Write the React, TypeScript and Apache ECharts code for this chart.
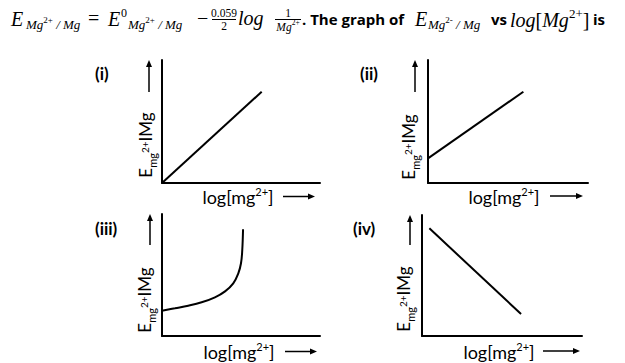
import React, { useEffect, useRef } from "react";
import * as echarts from "echarts";

// ---- data ----
const panelNames = ["(i)", "(ii)", "(iii)", "(iv)"];
const xAxisTitleParts = ["log[mg", "2+", "]"];
const yAxisTitleParts = ["E", "mg", "2+", "IMg"];
const seriesI = [[0, 0], [6.31, 7.42]];
const seriesII = [[0, 2.0], [5.96, 7.42]];
const seriesIII = [
  [0, 2.07], [0.82, 2.27], [1.66, 2.48], [2.51, 2.76], [3.35, 3.17], [3.99, 3.66],
  [4.51, 4.32], [4.83, 5.14], [5.0, 5.96], [5.08, 7.05], [5.13, 8.75],
];
const seriesIV = [[0.46, 8.9], [6.19, 1.82]];
const allSeries = [seriesI, seriesII, seriesIII, seriesIV];

// ---- layout ----
const grids = [
  { left: 162, top: 60, width: 158, height: 123 },
  { left: 428, top: 60, width: 160, height: 123 },
  { left: 162, top: 214, width: 158, height: 122 },
  { left: 422, top: 215, width: 160, height: 121 },
];
const panelLabelPos = [[95, 73.5], [360, 73.5], [95, 228], [353, 228]];
const upArrows = [[149, 60, 92], [415, 60, 92], [150, 214, 245], [410, 215, 245]];
const rightArrows = [[283, 315, 196.5], [550, 583, 196], [285, 317, 351.5], [543, 580, 351]];
const yLabelPos = [[147, 145], [410, 147], [146, 300], [405, 299]];
const xLabelPos = [[238, 195], [504, 195], [239, 350], [499, 350]];

const SERIF = "'Liberation Serif'";
const SANS = "Lato";
const BOLD = "'Open Sans'";

function txt(x: number, y: number, text: string, style: any, align = "left") {
  return {
    type: "text",
    x,
    y,
    silent: true,
    style: {
      text,
      fill: "#000",
      align,
      textAlign: align,
      verticalAlign: "middle",
      textVerticalAlign: "middle",
      ...style,
    },
  };
}

function subGroup(x: number, y: number, charge: string) {
  return txt(x, y, `{m|Mg}{p|${charge}}{m| / Mg}`, {
    rich: {
      m: { fontSize: 13, fontFamily: SERIF, fontStyle: "italic", verticalAlign: "bottom", padding: [3, 0, 0, 0] },
      p: { fontSize: 9, fontFamily: SERIF, verticalAlign: "top" },
    },
  });
}

function titleGraphics() {
  const it20 = { fontSize: 20, fontFamily: SERIF, fontStyle: "italic" };
  const rm20 = { fontSize: 20, fontFamily: SERIF };
  const sm = { fontSize: 11.5, fontFamily: SERIF };
  const bold = { fontSize: 15, fontFamily: BOLD, fontWeight: 700 };
  return [
    txt(11, 18.5, "E", it20),
    subGroup(26, 23, "2+"),
    txt(88, 18, "=", rm20),
    txt(108, 18.5, "E", it20),
    txt(121, 13, "0", { fontSize: 12, fontFamily: SERIF }),
    subGroup(128, 23, "2+"),
    txt(197, 18, "−", rm20),
    txt(224, 13, "0.059", sm, "center"),
    { type: "line", silent: true, shape: { x1: 212, y1: 19.5, x2: 236, y2: 19.5 }, style: { stroke: "#000", lineWidth: 1 } },
    txt(224, 25.5, "2", sm, "center"),
    txt(238, 18, "log", it20),
    txt(288, 13, "1", sm, "center"),
    { type: "line", silent: true, shape: { x1: 275, y1: 19.5, x2: 301, y2: 19.5 }, style: { stroke: "#000", lineWidth: 1 } },
    txt(288, 25.5, "{m|Mg}{p|2+}", {
      rich: {
        m: { fontSize: 11.5, fontFamily: SERIF, fontStyle: "italic", verticalAlign: "bottom", padding: [2, 0, 0, 0] },
        p: { fontSize: 7.5, fontFamily: SERIF, verticalAlign: "top" },
      },
    }, "center"),
    txt(302, 19, ". The graph of", bold),
    txt(415, 18.5, "E", it20),
    subGroup(428, 23, "2-"),
    txt(491, 19, "vs", bold),
    txt(510, 18, "{a|log}{b|[}{a|Mg}{p|2+}{b|]}", {
      rich: {
        a: { fontSize: 20, fontFamily: SERIF, fontStyle: "italic", verticalAlign: "bottom", padding: [3, 0, 0, 0] },
        b: { fontSize: 20, fontFamily: SERIF, verticalAlign: "bottom", padding: [3, 0, 0, 0] },
        p: { fontSize: 13, fontFamily: SERIF, verticalAlign: "top" },
      },
    }),
    txt(593, 19, "is", bold),
  ];
}

function panelGraphics() {
  const out: any[] = [];
  panelNames.forEach((name, i) => {
    const [px, py] = panelLabelPos[i];
    out.push(txt(px, py, name, { fontSize: 17, fontFamily: SANS, fontWeight: 700 }));

    const [ax, ay0, ay1] = upArrows[i];
    out.push({ type: "line", silent: true, shape: { x1: ax, y1: ay0 + 5, x2: ax, y2: ay1 }, style: { stroke: "#000", lineWidth: 1.5 } });
    out.push({ type: "polygon", silent: true, shape: { points: [[ax, ay0], [ax - 3, ay0 + 7], [ax + 3, ay0 + 7]] }, style: { fill: "#000" } });

    const [rx0, rx1, ry] = rightArrows[i];
    out.push({ type: "line", silent: true, shape: { x1: rx0, y1: ry, x2: rx1 - 5, y2: ry }, style: { stroke: "#000", lineWidth: 1.5 } });
    out.push({ type: "polygon", silent: true, shape: { points: [[rx1, ry], [rx1 - 7, ry - 3], [rx1 - 7, ry + 3]] }, style: { fill: "#000" } });

    const [yx, yy] = yLabelPos[i];
    out.push({
      ...txt(yx, yy, `{e|${yAxisTitleParts[0]}}{s|${yAxisTitleParts[1]}}{p|${yAxisTitleParts[2]}}{e|${yAxisTitleParts[3]}}`, {
        rich: {
          e: { fontSize: 17, fontFamily: SANS, verticalAlign: "bottom", padding: [0, 0, 4, 0] },
          s: { fontSize: 11, fontFamily: SANS, verticalAlign: "bottom" },
          p: { fontSize: 10, fontFamily: SANS, verticalAlign: "top", padding: [3, 0, 0, 0] },
        },
      }, "center"),
      rotation: Math.PI / 2,
    });

    const [lx, ly] = xLabelPos[i];
    out.push(txt(lx, ly, `{a|${xAxisTitleParts[0]}}{p|${xAxisTitleParts[1]}}{a|${xAxisTitleParts[2]}}`, {
      rich: {
        a: { fontSize: 18, fontFamily: SANS, verticalAlign: "bottom", padding: [3, 0, 0, 0] },
        p: { fontSize: 11, fontFamily: SANS, verticalAlign: "top", padding: [1, 0, 0, 0] },
      },
    }, "center"));
  });
  return out;
}

export default function App() {
  const ref = useRef<HTMLDivElement>(null);
  useEffect(() => {
    if (!ref.current) return;
    const chart = echarts.init(ref.current, null, { renderer: "svg" });
    const axisCommon = {
      type: "value",
      min: 0,
      max: 10,
      axisLine: { show: true, onZero: false, lineStyle: { color: "#000", width: 2 } },
      axisTick: { show: false },
      axisLabel: { show: false },
      splitLine: { show: false },
    };
    chart.setOption({
      animation: false,
      backgroundColor: "#fff",
      grid: grids.map((g) => ({ ...g, containLabel: false })),
      xAxis: grids.map((_, i) => ({ ...axisCommon, gridIndex: i })),
      yAxis: grids.map((_, i) => ({ ...axisCommon, gridIndex: i })),
      series: allSeries.map((d, i) => ({
        type: "line",
        xAxisIndex: i,
        yAxisIndex: i,
        data: d,
        smooth: i === 2 ? 0.4 : false,
        showSymbol: false,
        lineStyle: { color: "#000", width: 2 },
      })),
      graphic: [...titleGraphics(), ...panelGraphics()],
    });
    return () => chart.dispose();
  }, []);
  return <div ref={ref} style={{ position: "fixed", left: 0, top: 0, width: 625, height: 363 }} />;
}
